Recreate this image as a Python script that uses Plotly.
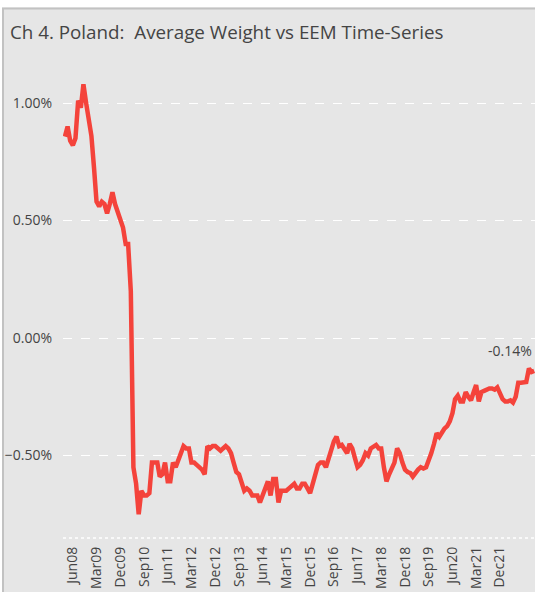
import pandas as pd
import plotly.graph_objects as go

# Monthly average weight difference vs EEM (%), Mar 2008 .. Jan 2023
start_month = "2008-03-01"
values = [
    0.857, 0.90, 0.84, 0.82, 0.85, 1.01, 0.98, 1.08, 1.00, 0.94,
    0.86, 0.72, 0.58, 0.56, 0.58, 0.57, 0.53, 0.57, 0.62, 0.57,
    0.54, 0.51, 0.47, 0.40, 0.40, 0.20, -0.55, -0.62, -0.75, -0.65,
    -0.67, -0.67, -0.66, -0.53, -0.53, -0.53, -0.59, -0.58, -0.53, -0.61,
    -0.61, -0.53, -0.55, -0.52, -0.48, -0.46, -0.47, -0.47, -0.53, -0.53,
    -0.54, -0.55, -0.56, -0.58, -0.46, -0.47, -0.46, -0.46, -0.47, -0.48,
    -0.47, -0.46, -0.47, -0.49, -0.53, -0.57, -0.58, -0.62, -0.65, -0.64,
    -0.65, -0.67, -0.67, -0.67, -0.70, -0.67, -0.64, -0.61, -0.67, -0.60,
    -0.60, -0.70, -0.65, -0.65, -0.65, -0.64, -0.63, -0.62, -0.64, -0.64,
    -0.62, -0.62, -0.64, -0.66, -0.62, -0.57, -0.54, -0.53, -0.53, -0.55,
    -0.51, -0.47, -0.44, -0.42, -0.46, -0.455, -0.47, -0.49, -0.45, -0.47,
    -0.51, -0.55, -0.54, -0.52, -0.49, -0.50, -0.47, -0.465, -0.455, -0.47,
    -0.47, -0.55, -0.61, -0.58, -0.56, -0.53, -0.47, -0.49, -0.53, -0.56,
    -0.57, -0.575, -0.59, -0.57, -0.56, -0.55, -0.555, -0.55, -0.525, -0.49,
    -0.45, -0.405, -0.42, -0.40, -0.385, -0.375, -0.355, -0.32, -0.26, -0.245,
    -0.27, -0.27, -0.23, -0.25, -0.265, -0.23, -0.20, -0.27, -0.23, -0.225,
    -0.22, -0.215, -0.215, -0.22, -0.21, -0.23, -0.26, -0.27, -0.27, -0.265,
    -0.275, -0.25, -0.19, -0.19, -0.187, -0.187, -0.13, -0.145, -0.14,
]
dates = pd.date_range(start_month, periods=len(values), freq="MS")

# x tick labels (every 9 months)
tick_labels = ["Jun08", "Mar09", "Dec09", "Sep10", "Jun11", "Mar12", "Dec12",
               "Sep13", "Jun14", "Mar15", "Dec15", "Sep16", "Jun17", "Mar18",
               "Dec18", "Sep19", "Jun20", "Mar21", "Dec21"]
tick_dates = [pd.to_datetime(t, format="%b%y") for t in tick_labels]

title_text = "Ch 4. Poland:  Average Weight vs EEM Time-Series"
last_label = "-0.14%"

W, H = 535, 592
# plot-area edges in pixels (margins are zero; axes placed via domains)
PL, PR, PT, PB = 63, 535, 56, 538

def px(x):
    return x / W

def py(y):
    return 1 - y / H

font = "Open Sans"
txt = "#444444"

fig = go.Figure()
fig.add_trace(go.Scatter(
    x=dates, y=values, mode="lines",
    line=dict(color="#F4433B", width=4.5),
    hoverinfo="skip", showlegend=False,
))

fig.add_annotation(
    x=dates[-1], y=values[-1], text=last_label, showarrow=False,
    xanchor="right", yanchor="bottom", yshift=9, xshift=0,
    font=dict(family=font, size=14, color=txt),
)

shapes = [
    # white strip on top and left
    dict(type="rect", xref="paper", yref="paper", x0=0, x1=1, y0=py(7.5), y1=1,
         fillcolor="#ffffff", line=dict(color="#ffffff", width=0), layer="above"),
    dict(type="rect", xref="paper", yref="paper", x0=0, x1=px(2), y0=0, y1=1,
         fillcolor="#ffffff", line=dict(color="#ffffff", width=0), layer="above"),
    # frame lines
    dict(type="line", xref="paper", yref="paper", x0=px(2), x1=1, y0=py(8.5), y1=py(8.5),
         line=dict(color="#c2c2c2", width=2), layer="above"),
    dict(type="line", xref="paper", yref="paper", x0=px(3), x1=px(3), y0=0, y1=py(8),
         line=dict(color="#c2c2c2", width=2), layer="above"),
    # dotted bottom axis line
    dict(type="line", xref="paper", yref="paper", x0=px(PL), x1=1, y0=py(PB), y1=py(PB),
         line=dict(color="white", width=1.5, dash="dot"), layer="below"),
]

fig.update_layout(
    width=W, height=H,
    margin=dict(l=0, r=0, t=0, b=0, pad=0),
    paper_bgcolor="#e6e6e6", plot_bgcolor="#e6e6e6",
    font=dict(family=font, size=14, color=txt),
    title=dict(text=title_text, xref="container", yref="container",
               x=10 / W, xanchor="left", y=1 - 32 / H, yanchor="middle",
               font=dict(family=font, size=18.8, color=txt)),
    shapes=shapes,
    xaxis=dict(
        domain=[px(PL), px(PR)],
        type="date", range=["2008-02-08", "2023-01-10"],
        tickvals=tick_dates, ticktext=tick_labels,
        tickangle=-90, showgrid=False, zeroline=False, showline=False,
        ticks="", ticklen=0, ticklabelstandoff=5, automargin=False,
        tickfont=dict(family=font, size=14, color=txt),
    ),
    yaxis=dict(
        domain=[py(PB), py(PT)],
        range=[-0.851, 1.2], dtick=0.5, tick0=0, tickformat=".2f", ticksuffix="%",
        showgrid=True, gridcolor="white", griddash="dash", gridwidth=1,
        zeroline=False, showline=False, ticks="", ticklen=0, ticklabelstandoff=10,
        automargin=False,
        tickfont=dict(family=font, size=14, color=txt),
    ),
)

fig.write_html("out.html", config={"displayModeBar": False},
               post_script="document.body.style.margin='0';")
